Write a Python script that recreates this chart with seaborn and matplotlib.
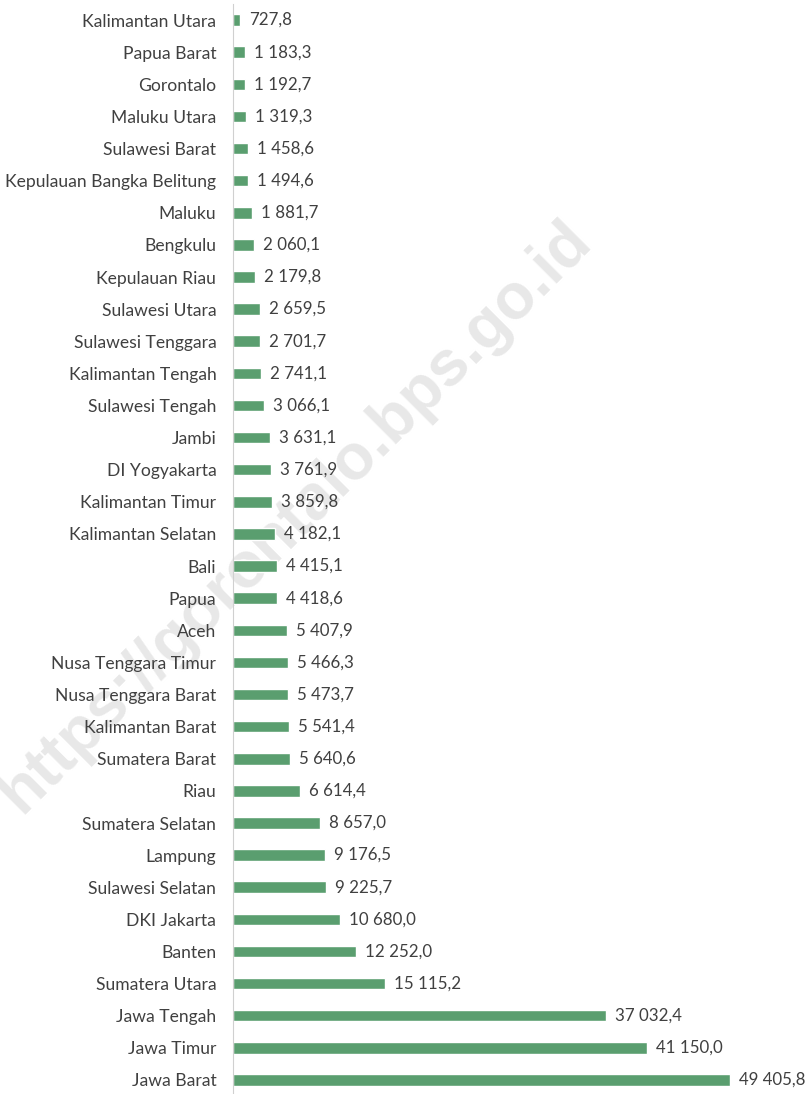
import matplotlib
matplotlib.use("Agg")
import matplotlib.pyplot as plt
import seaborn as sns
import pandas as pd
import numpy as np

provinsi = [
    "Kalimantan Utara", "Papua Barat", "Gorontalo", "Maluku Utara", "Sulawesi Barat",
    "Kepulauan Bangka Belitung", "Maluku", "Bengkulu", "Kepulauan Riau", "Sulawesi Utara",
    "Sulawesi Tenggara", "Kalimantan Tengah", "Sulawesi Tengah", "Jambi", "DI Yogyakarta",
    "Kalimantan Timur", "Kalimantan Selatan", "Bali", "Papua", "Aceh",
    "Nusa Tenggara Timur", "Nusa Tenggara Barat", "Kalimantan Barat", "Sumatera Barat", "Riau",
    "Sumatera Selatan", "Lampung", "Sulawesi Selatan", "DKI Jakarta", "Banten",
    "Sumatera Utara", "Jawa Tengah", "Jawa Timur", "Jawa Barat",
]
nilai = [
    727.8, 1183.3, 1192.7, 1319.3, 1458.6,
    1494.6, 1881.7, 2060.1, 2179.8, 2659.5,
    2701.7, 2741.1, 3066.1, 3631.1, 3761.9,
    3859.8, 4182.1, 4415.1, 4418.6, 5407.9,
    5466.3, 5473.7, 5541.4, 5640.6, 6614.4,
    8657.0, 9176.5, 9225.7, 10680.0, 12252.0,
    15115.2, 37032.4, 41150.0, 49405.8,
]

df = pd.DataFrame({"provinsi": provinsi, "nilai": nilai})

sns.set_theme(style="white")
plt.rcParams["font.family"] = ["Lato", "DejaVu Sans"]

W, H = 809, 1094
fig = plt.figure(figsize=(W / 100, H / 100), dpi=100)
ax = fig.add_axes([233 / W, -2 / H, (W - 233) / W, 1092 / H])

green = "#5a9e6f"
sns.barplot(data=df, x="nilai", y="provinsi", orient="h", color=green,
            width=0.36, ax=ax, saturation=1)

ax.set_xlim(0, 57260)
ax.set_ylim(len(provinsi) - 0.5, -0.5)

def fmt(v):
    s = f"{v:,.1f}"
    return s.replace(",", " ").replace(".", ",")

for i, v in enumerate(nilai):
    ax.annotate(fmt(v), xy=(v, i), xytext=(6.5, 0), textcoords="offset points",
                va="center", ha="left", fontsize=12.2, color="#404040")

# watermark
fig.text(0.365, 0.528, "https://gorontalo.bps.go.id", rotation=45,
         fontsize=46, fontweight="bold", color="#e8e8e8",
         ha="center", va="center", zorder=0, family=["Liberation Sans", "DejaVu Sans"])

ax.set_xlabel("")
ax.set_ylabel("")
ax.set_xticks([])
ax.tick_params(axis="y", length=0, labelsize=12.6, labelcolor="#404040", pad=12)
ax.set_yticks(np.arange(len(provinsi) + 1) - 0.5, minor=True)
ax.tick_params(axis="y", which="minor", length=5, color="#d0d0d0", width=0.8)
for s in ["top", "right", "bottom"]:
    ax.spines[s].set_visible(False)
ax.spines["left"].set_color("#d0d0d0")
ax.spines["left"].set_linewidth(0.8)
ax.patch.set_alpha(0)
ax.set_zorder(2)

fig.savefig("out.png", dpi=100)
